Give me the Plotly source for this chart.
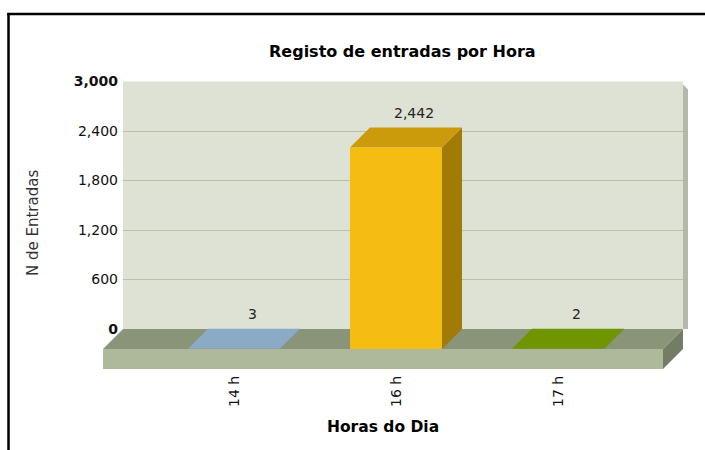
import plotly.graph_objects as go

# ---- data -------------------------------------------------------------
categories = ["14 h", "16 h", "17 h"]
entradas = [3, 2442, 2]

front_colors = ["#A3C6E6", "#F5BC12", "#84B200"]
top_colors = ["#8AAAC5", "#CB9B0B", "#6F9500"]
side_colors = ["#6C879E", "#A27B07", "#577500"]

y_tick_vals = [0, 600, 1200, 1800, 2400, 3000]
y_tick_text = ["<b>0</b>", "600", "1,200", "1,800", "2,400", "<b>3,000</b>"]

chart_title = "Registo de entradas por Hora"
x_title = "Horas do Dia"
y_title = "N de Entradas"

# ---- layout geometry (pixels) ------------------------------------------
W, H = 705, 450
Y_MAX = 3000
ZERO_Y = 329.0          # back-wall pixel row of value 0
PX_PER_UNIT = 247.5 / Y_MAX
WALL_L, WALL_R = 123.0, 683.0
SLOT = 162.0            # pixels between category centres
FIRST_BACK = 254.0      # back-plane centre of the first category
DEPTH = 20.0            # 3D depth offset (px)
FLOOR_T = 20.0          # floor slab thickness (px)
BAR_W = 92.0            # bar width (px)
VIEW_L, VIEW_R, VIEW_T, VIEW_B = 78.0, 692.0, 60.0, 369.0

FONT = "DejaVu Sans"


def px_to_cat(px):
    return (px - FIRST_BACK) / SLOT


def py_to_val(py):
    return (ZERO_Y - py) / PX_PER_UNIT


dx = DEPTH / SLOT
dy = DEPTH / PX_PER_UNIT
ft = FLOOR_T / PX_PER_UNIT
bw = BAR_W / SLOT

fig = go.Figure()


def poly(pts, color):
    xs = [p[0] for p in pts] + [pts[0][0]]
    ys = [p[1] for p in pts] + [pts[0][1]]
    fig.add_trace(go.Scatter(
        x=xs, y=ys, xaxis="x2", yaxis="y2", mode="lines",
        fill="toself", fillcolor=color, line=dict(width=0, color=color),
        hoverinfo="skip", showlegend=False))


# wall subplot: carries the value grid and its tick labels
fig.add_trace(go.Scatter(x=[0, 1], y=[0, 0], mode="lines",
                         line=dict(width=0), hoverinfo="skip",
                         showlegend=False, xaxis="x", yaxis="y"))

xl, xr = px_to_cat(WALL_L), px_to_cat(WALL_R)

# right-hand shadow of the wall
sx = 5.0 / SLOT
poly([(xr, Y_MAX - 3 / PX_PER_UNIT), (xr + sx, Y_MAX - 8 / PX_PER_UNIT),
      (xr + sx, 0), (xr, 0)], "#B3B8A8")

# floor slab
poly([(xl, 0), (xr, 0), (xr - dx, -dy), (xl - dx, -dy)], "#899478")
poly([(xl - dx, -dy), (xr - dx, -dy), (xr - dx, -dy - ft), (xl - dx, -dy - ft)], "#ADB99A")
poly([(xr - dx, -dy), (xr, 0), (xr, -ft), (xr - dx, -dy - ft)], "#727D64")

# 3D bars
for i, v in enumerate(entradas):
    fl = i - dx - bw / 2
    fr = i - dx + bw / 2
    poly([(fr, -dy), (fr, v - dy), (fr + dx, v), (fr + dx, 0)], side_colors[i])
    poly([(fl, v - dy), (fr, v - dy), (fr + dx, v), (fl + dx, v)], top_colors[i])
    poly([(fl, -dy), (fr, -dy), (fr, v - dy), (fl, v - dy)], front_colors[i])

annotations = []
for i, v in enumerate(entradas):
    annotations.append(dict(
        x=i - 0.01, y=v, xref="x2", yref="y2", text=f"{v:,}", showarrow=False,
        yanchor="middle", yshift=15, font=dict(family=FONT, size=14, color="#222222")))

annotations += [
    dict(x=402 / W, y=1 - 52 / H, xref="paper", yref="paper", text=f"<b>{chart_title}</b>",
         showarrow=False, xanchor="center", yanchor="middle",
         font=dict(family=FONT, size=16, color="#000000")),
    dict(x=383 / W, y=1 - 427 / H, xref="paper", yref="paper", text=f"<b>{x_title}</b>",
         showarrow=False, xanchor="center", yanchor="middle",
         font=dict(family=FONT, size=15.5, color="#000000")),
    dict(x=33 / W, y=1 - 223 / H, xref="paper", yref="paper", text=y_title,
         showarrow=False, textangle=-90, xanchor="center", yanchor="middle",
         font=dict(family=FONT, size=15, color="#333333")),
]

shapes = [
    # back wall
    dict(type="rect", xref="x domain", yref="y domain", x0=0, x1=1, y0=0, y1=1,
         fillcolor="#DDE2D4", line=dict(width=0), layer="below"),
    # outer frame
    dict(type="line", xref="paper", yref="paper", x0=8.5 / W, x1=8.5 / W,
         y0=0, y1=1 - 13 / H, line=dict(color="#000000", width=2.5)),
    dict(type="line", xref="paper", yref="paper", x0=7.3 / W, x1=1,
         y0=1 - 14 / H, y1=1 - 14 / H, line=dict(color="#000000", width=2.5)),
]

fig.update_layout(
    width=W, height=H, autosize=False,
    margin=dict(l=0, r=0, t=0, b=0, pad=0),
    paper_bgcolor="#FFFFFF", plot_bgcolor="rgba(0,0,0,0)",
    showlegend=False,
    xaxis=dict(domain=[WALL_L / W, WALL_R / W], range=[0, 1], visible=False,
               fixedrange=True, automargin=False),
    yaxis=dict(domain=[1 - ZERO_Y / H, 1 - (ZERO_Y - Y_MAX * PX_PER_UNIT) / H],
               range=[0, Y_MAX], tickvals=y_tick_vals, ticktext=y_tick_text,
               showgrid=True, gridcolor="#B7C2A4", gridwidth=1, zeroline=False,
               showline=False, ticks="", ticklabelstandoff=4, automargin=False,
               tickfont=dict(family=FONT, size=14, color="#111111"), fixedrange=True),
    xaxis2=dict(domain=[VIEW_L / W, VIEW_R / W],
                range=[px_to_cat(VIEW_L), px_to_cat(VIEW_R)],
                anchor="y2", tickvals=[i - dx for i in range(len(categories))],
                ticktext=categories, tickangle=-90, showgrid=False, zeroline=False,
                showline=False, ticks="", ticklabelstandoff=3, automargin=False,
                tickfont=dict(family=FONT, size=14, color="#111111"), fixedrange=True),
    yaxis2=dict(domain=[1 - VIEW_B / H, 1 - VIEW_T / H],
                range=[py_to_val(VIEW_B), py_to_val(VIEW_T)],
                anchor="x2", visible=False, fixedrange=True, automargin=False),
    annotations=annotations,
    shapes=shapes,
)

fig.write_html("out.html")
